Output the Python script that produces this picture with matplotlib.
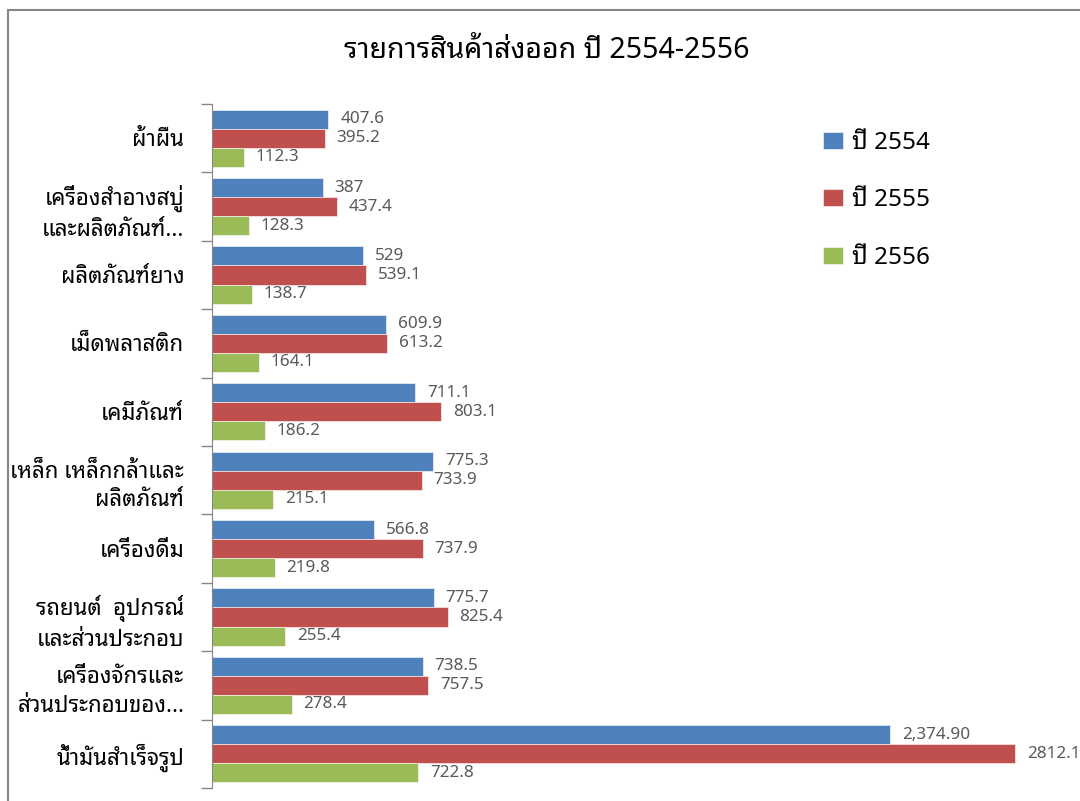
import matplotlib
matplotlib.use("Agg")
import matplotlib.pyplot as plt
import matplotlib.patches as patches
import numpy as np

plt.rcParams['font.family'] = ['Noto Sans Thai Looped', 'DejaVu Sans']

categories = [
    "ผ้าผืน",
    "เครื่องสำอางสบู่\nและผลิตภัณฑ์...",
    "ผลิตภัณฑ์ยาง",
    "เม็ดพลาสติก",
    "เคมีภัณฑ์",
    "เหล็ก เหล็กกล้าและ\nผลิตภัณฑ์",
    "เครื่องดื่ม",
    "รถยนต์  อุปกรณ์\nและส่วนประกอบ",
    "เครื่องจักรและ\nส่วนประกอบของ...",
    "น้ำมันสำเร็จรูป",
]
y2554 = [407.6, 387, 529, 609.9, 711.1, 775.3, 566.8, 775.7, 738.5, 2374.9]
y2555 = [395.2, 437.4, 539.1, 613.2, 803.1, 733.9, 737.9, 825.4, 757.5, 2812.1]
y2556 = [112.3, 128.3, 138.7, 164.1, 186.2, 215.1, 219.8, 255.4, 278.4, 722.8]
lab2554 = ["407.6", "387", "529", "609.9", "711.1", "775.3", "566.8", "775.7", "738.5", "2,374.90"]
lab2555 = ["395.2", "437.4", "539.1", "613.2", "803.1", "733.9", "737.9", "825.4", "757.5", "2812.1"]
lab2556 = ["112.3", "128.3", "138.7", "164.1", "186.2", "215.1", "219.8", "255.4", "278.4", "722.8"]
series = ["ปี 2554", "ปี 2555", "ปี 2556"]
colors = ["#4F81BD", "#C0504D", "#9BBB59"]

W, H = 1080, 801
fig = plt.figure(figsize=(W / 100, H / 100), dpi=100)

# outer chart border (cut off at right/bottom)
fig.patches.append(patches.Rectangle((8 / W, -0.05), 1.1, 1 - 10 / H + 0.05,
                                     transform=fig.transFigure, fill=False,
                                     edgecolor="#868686", linewidth=1.5))

ax = fig.add_axes([212 / W, 1 - 788 / H, 1 - 212 / W, (788 - 104) / H])
y = np.arange(len(categories))
h = 0.278
data = [y2554, y2555, y2556]
labels = [lab2554, lab2555, lab2556]
for k in range(3):
    pos = y + (k - 1) * h
    ax.barh(pos, data[k], height=h, color=colors[k], label=series[k],
            edgecolor="white", linewidth=0.4)
    for p, v, s in zip(pos, data[k], labels[k]):
        ax.annotate(s, (v, p), xytext=(8.5, 0), textcoords="offset points",
                    va="center", ha="left", fontsize=12.3, color="#595959",
                    annotation_clip=False)

ax.set_xlim(0, (W - 212) / 0.2856)
ax.set_ylim(len(categories) - 0.5, -0.5)
ax.set_yticks(y)
ax.set_yticklabels(categories, fontsize=16, linespacing=1.48)
ax.set_yticks(np.arange(len(categories) + 1) - 0.5, minor=True)
ax.tick_params(axis="y", which="major", length=0, pad=20)
ax.tick_params(axis="y", which="minor", length=8, color="#868686", width=1)
ax.set_xticks([])
for s in ["top", "right", "bottom"]:
    ax.spines[s].set_visible(False)
ax.spines["left"].set_color("#868686")
ax.set_facecolor("none")

fig.text(547 / W, 1 - 51 / H, "รายการสินค้าส่งออก ปี 2554-2556",
         ha="center", va="center", fontsize=20.5, color="black")

leg = fig.legend(loc="upper left", bbox_to_anchor=(813 / W, 1 - 121 / H),
                 frameon=False, fontsize=17.5, labelspacing=1.38,
                 borderaxespad=0, handlelength=0.85, handleheight=0.7,
                 handletextpad=0.35)

fig.savefig("out.png", dpi=100)
